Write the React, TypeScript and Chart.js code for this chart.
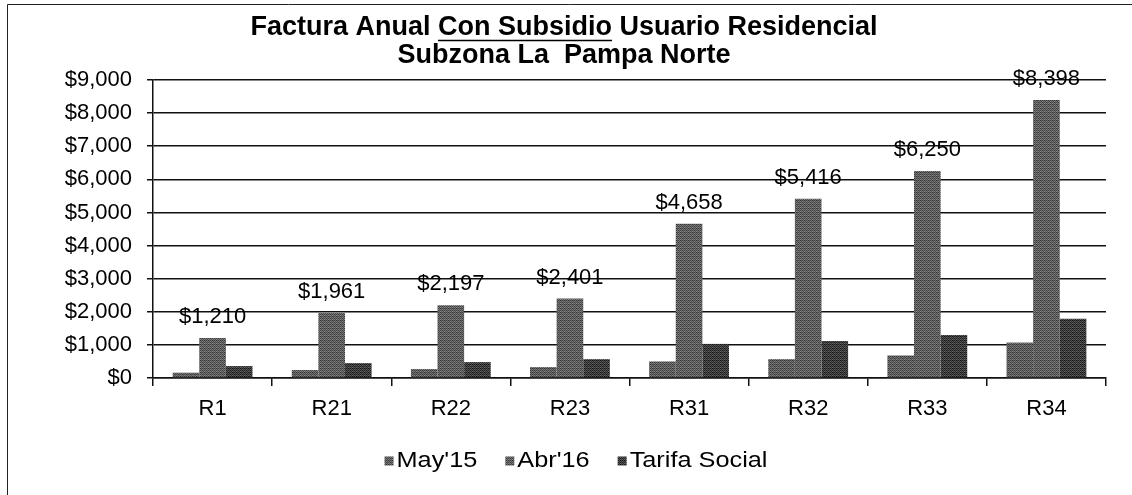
import React, { useEffect, useRef } from "react";
import { Chart, registerables } from "chart.js";

Chart.register(...registerables);

const categories = ["R1", "R21", "R22", "R23", "R31", "R32", "R33", "R34"];
const may15 = [160, 240, 270, 330, 500, 570, 680, 1070];
const abr16 = [1210, 1961, 2197, 2401, 4658, 5416, 6250, 8398];
const tarifaSocial = [360, 450, 480, 570, 1030, 1120, 1300, 1790];
const seriesLabels = ["May'15", "Abr'16", "Tarifa Social"];
const seriesBase = [92, 94, 60];
const titleLine1 = ["Factura Anual ", "Con Subsidio", " Usuario Residencial"];
const titleLine2 = "Subzona La  Pampa Norte";
const yMin = 0;
const yMax = 9000;
const yStep = 1000;

const FONT = "'Liberation Sans', Arial, sans-serif";
const fmt = (v: number) => "$" + v.toLocaleString("en-US");

const BAYER = [
  [0, 8, 2, 10],
  [12, 4, 14, 6],
  [3, 11, 1, 9],
  [15, 7, 13, 5],
];

function makePattern(base: number): CanvasPattern | string {
  const c = document.createElement("canvas");
  c.width = 4;
  c.height = 4;
  const g = c.getContext("2d");
  if (!g) return `rgb(${base},${base},${base})`;
  for (let r = 0; r < 4; r++) {
    for (let k = 0; k < 4; k++) {
      const v = Math.max(0, Math.min(255, Math.round(base + (BAYER[r][k] - 7.5) * 6)));
      g.fillStyle = `rgb(${v},${v},${v})`;
      g.fillRect(k, r, 1, 1);
    }
  }
  const p = g.createPattern(c, "repeat");
  return p || `rgb(${base},${base},${base})`;
}

const framePlugin = {
  id: "frame",
  beforeDraw(chart: any) {
    const ctx = chart.ctx;
    ctx.save();
    ctx.fillStyle = "#fff";
    ctx.fillRect(0, 0, chart.width, chart.height);
    ctx.strokeStyle = "#222";
    ctx.lineWidth = 1;
    ctx.beginPath();
    ctx.moveTo(7.5, 495);
    ctx.lineTo(7.5, 4.5);
    ctx.lineTo(1132, 4.5);
    ctx.stroke();
    ctx.restore();
  },
};

const titlePlugin = {
  id: "customTitle",
  afterDraw(chart: any) {
    const ctx = chart.ctx;
    const cx = 564;
    ctx.save();
    ctx.fillStyle = "#000";
    ctx.strokeStyle = "#000";
    ctx.font = `bold 27px ${FONT}`;
    ctx.textBaseline = "middle";
    ctx.textAlign = "left";
    const full = titleLine1.join("");
    let x = cx - ctx.measureText(full).width / 2;
    const y1 = 28;
    titleLine1.forEach((part, i) => {
      const w = ctx.measureText(part).width;
      ctx.fillText(part, x, y1);
      if (i === 1) {
        ctx.lineWidth = 1.6;
        ctx.beginPath();
        ctx.moveTo(x, y1 + 12.5);
        ctx.lineTo(x + w, y1 + 12.5);
        ctx.stroke();
      }
      x += w;
    });
    ctx.textAlign = "center";
    ctx.fillText(titleLine2, cx, 56);
    ctx.restore();
  },
};

const dataLabelPlugin = {
  id: "dataLabels",
  afterDatasetsDraw(chart: any) {
    const ctx = chart.ctx;
    const meta = chart.getDatasetMeta(1);
    ctx.save();
    ctx.fillStyle = "#000";
    ctx.font = `22px ${FONT}`;
    ctx.textAlign = "center";
    ctx.textBaseline = "middle";
    meta.data.forEach((bar: any, i: number) => {
      ctx.fillText(fmt(abr16[i]), bar.x, bar.y - 21);
    });
    ctx.restore();
  },
};

const legendPlugin = {
  id: "customLegend",
  afterDraw(chart: any) {
    const ctx = chart.ctx;
    ctx.save();
    ctx.font = `22px ${FONT}`;
    ctx.textBaseline = "middle";
    ctx.textAlign = "left";
    const sx = 1.15;
    const sw = 9;
    const gapSw = 3;
    const gapItem = 28;
    const widths = seriesLabels.map((l) => sw + gapSw + ctx.measureText(l).width * sx);
    const total = widths.reduce((a, b) => a + b, 0) + gapItem * (seriesLabels.length - 1);
    let x = 576 - total / 2;
    const y = 461;
    const ds = chart.data.datasets;
    seriesLabels.forEach((label, i) => {
      ctx.fillStyle = ds[i].backgroundColor;
      ctx.fillRect(x, y - sw / 2, sw, sw);
      ctx.fillStyle = "#000";
      ctx.save();
      ctx.translate(x + sw + gapSw, y);
      ctx.scale(sx, 1);
      ctx.fillText(label, 0, 0);
      ctx.restore();
      x += widths[i] + gapItem;
    });
    ctx.restore();
  },
};

export default function App() {
  const canvasRef = useRef<HTMLCanvasElement | null>(null);

  useEffect(() => {
    const canvas = canvasRef.current;
    if (!canvas) return;
    const data = [may15, abr16, tarifaSocial];
    const chart = new Chart(canvas, {
      type: "bar",
      data: {
        labels: categories,
        datasets: seriesLabels.map((label, i) => ({
          label,
          data: data[i],
          backgroundColor: makePattern(seriesBase[i]) as any,
          borderWidth: 0,
          categoryPercentage: 0.67,
          barPercentage: 1.0,
        })),
      },
      options: {
        responsive: false,
        animation: false,
        devicePixelRatio: 1,
        layout: { padding: { top: 80, right: 26, bottom: 77, left: 0 } },
        plugins: {
          legend: { display: false },
          title: { display: false },
          tooltip: { enabled: false },
        },
        scales: {
          x: {
            afterFit: (scale: any) => {
              scale.height = 40;
            },
            grid: {
              display: true,
              drawOnChartArea: false,
              drawTicks: true,
              tickLength: 8,
              offset: true,
              color: "#111",
              lineWidth: 1.5,
            },
            border: { display: true, color: "#111", width: 1.5 },
            ticks: {
              color: "#000",
              font: { family: FONT, size: 22 },
              padding: 10,
            },
          },
          y: {
            min: yMin,
            max: yMax,
            afterFit: (scale: any) => {
              scale.width = 153;
            },
            grid: {
              color: "#111",
              lineWidth: 1.5,
              tickLength: 6,
            },
            border: { display: true, color: "#111", width: 1.5 },
            ticks: {
              stepSize: yStep,
              color: "#000",
              font: { family: FONT, size: 22 },
              padding: 15,
              callback: (v: any) => fmt(Number(v)),
            },
          },
        },
      },
      plugins: [framePlugin, titlePlugin, dataLabelPlugin, legendPlugin],
    });
    return () => chart.destroy();
  }, []);

  return (
    <div style={{ position: "fixed", left: 0, top: 0, width: 1132, height: 495, background: "#fff" }}>
      <canvas ref={canvasRef} width={1132} height={495} style={{ display: "block" }} />
    </div>
  );
}
